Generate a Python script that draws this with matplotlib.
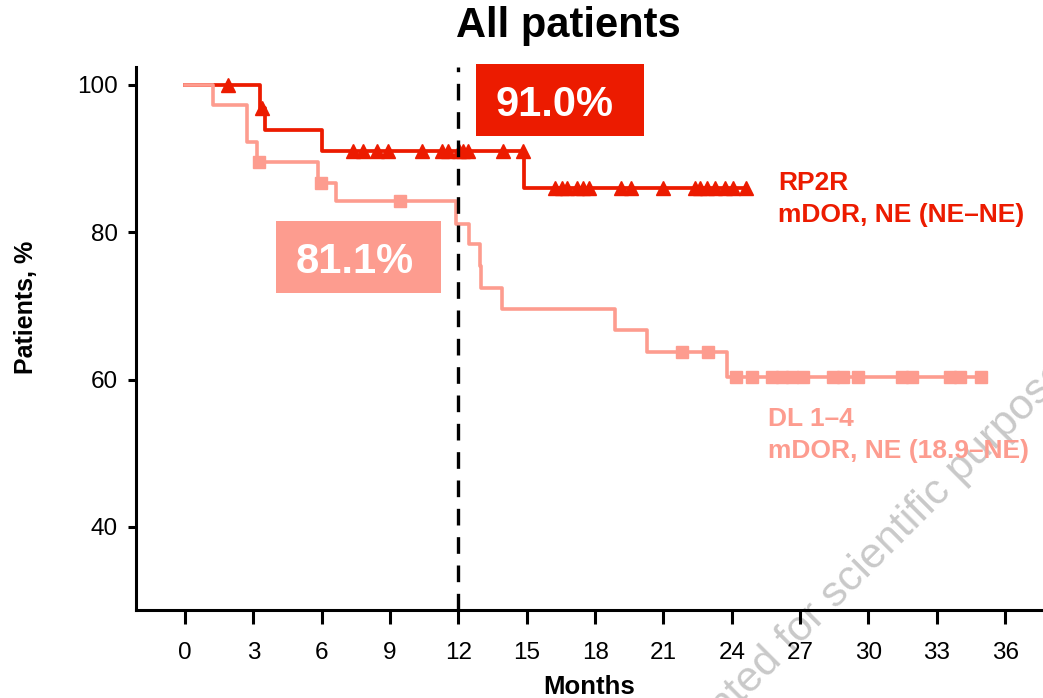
import matplotlib
matplotlib.use("Agg")
import matplotlib.pyplot as plt
import numpy as np
from matplotlib.patches import Rectangle

plt.rcParams['font.family'] = ['Liberation Sans', 'DejaVu Sans']

# ---- data ----
rp2r_event_months = [0, 3.3, 3.5, 6.0, 14.9]
rp2r_surv = [100, 96.9, 93.9, 91.0, 86.0]
rp2r_censor_months = [1.9, 3.38, 7.36, 7.83, 8.42, 8.92, 10.39, 11.27, 11.56, 12.04,
                      12.22, 12.44, 13.97, 14.85, 16.24, 16.54, 16.76, 17.22, 17.49,
                      17.75, 19.13, 19.58, 20.97, 22.39, 22.61, 22.90, 23.27, 23.71,
                      24.07, 24.61]

dl_event_months = [0, 1.23, 2.74, 3.18, 5.82, 6.61, 11.88, 12.47, 12.95, 13.0, 13.9,
                   18.88, 20.27, 23.81]
dl_surv = [100, 97.3, 92.2, 89.5, 86.7, 84.2, 81.1, 78.4, 75.4, 72.4, 69.6, 66.7,
           63.7, 60.3]
dl_censor_months = [3.26, 5.96, 9.44, 21.83, 22.97, 24.2, 24.9, 25.75, 26.19, 26.63,
                    27.14, 28.46, 28.9, 29.56, 31.46, 31.9, 33.58, 34.02, 34.93]

x_ticks = list(range(0, 37, 3))
y_ticks = [40, 60, 80, 100]
landmark_month = 12
rp2r_landmark = "91.0%"
dl_landmark = "81.1%"

RED = "#ec1b00"
SALMON = "#fd9c8f"


def surv_at(times, surv, t):
    idx = np.searchsorted(times, t, side="right") - 1
    return np.asarray(surv)[idx]


fig = plt.figure(figsize=(10.43, 6.98), dpi=100)
ax = fig.add_axes([136 / 1043, 88 / 698, 907 / 1043, 543 / 698])
ax.set_zorder(1)
ax.patch.set_alpha(0)

# curves
ax.step(rp2r_event_months + [rp2r_censor_months[-1]], rp2r_surv + [rp2r_surv[-1]],
        where="post", color=RED, lw=2.7, zorder=2)
ax.step(dl_event_months + [dl_censor_months[-1]], dl_surv + [dl_surv[-1]],
        where="post", color=SALMON, lw=2.6, zorder=3)

# censor marks
ax.plot(rp2r_censor_months, surv_at(rp2r_event_months, rp2r_surv, rp2r_censor_months),
        ls="none", marker="^", ms=9.5, color=RED, zorder=4)
ax.plot(dl_censor_months, surv_at(dl_event_months, dl_surv, dl_censor_months),
        ls="none", marker="s", ms=9, color=SALMON, zorder=4)

ax.axvline(landmark_month, color="black", lw=2.4, dashes=(5, 3.5), zorder=5)

# landmark boxes
ax.add_patch(Rectangle((12.77, 93.08), 7.38, 9.77, facecolor=RED, edgecolor="none",
                       zorder=6, clip_on=False))
ax.text(16.22, 95.8, rp2r_landmark, color="white", fontsize=30, fontweight="bold",
        ha="center", va="baseline", zorder=7)
ax.add_patch(Rectangle((3.99, 71.82), 7.23, 9.73, facecolor=SALMON, edgecolor="none",
                       zorder=6))
ax.text(7.45, 74.44, dl_landmark, color="white", fontsize=30, fontweight="bold",
        ha="center", va="baseline", zorder=7)

# curve labels
ax.text(26.03, 85.75, "RP2R", color=RED, fontsize=19, fontweight="bold", va="baseline")
ax.text(26.03, 81.4, "mDOR, NE (NE\u2013NE)", color=RED, fontsize=19,
        fontweight="bold", va="baseline")
ax.text(25.6, 53.7, "DL 1\u20134", color=SALMON, fontsize=19, fontweight="bold",
        va="baseline")
ax.text(25.6, 49.4, "mDOR, NE (18.9\u2013NE)", color=SALMON, fontsize=19,
        fontweight="bold", va="baseline")

# axes styling
ax.set_xlim(-2.15, 37.66)
ax.set_ylim(28.73, 102.44)
ax.set_xticks(x_ticks)
ax.set_yticks(y_ticks)
for s in ["top", "right"]:
    ax.spines[s].set_visible(False)
for s in ["left", "bottom"]:
    ax.spines[s].set_linewidth(2.2)
ax.tick_params(axis="x", length=10, width=2.2, pad=13, labelsize=17.5)
ax.tick_params(axis="y", length=6, width=2.2, pad=7, labelsize=17.5)

# titles / labels
fig.text(568 / 1043, (698 - 36.7) / 698, "All patients", fontsize=30,
         fontweight="bold", ha="center", va="baseline")
fig.text(26 / 1043, (698 - 307) / 698, "Patients, %", fontsize=18, fontweight="bold",
         rotation=90, ha="center", va="center")
fig.text(589 / 1043, 4 / 698, "Months", fontsize=18.5, fontweight="bold",
         ha="center", va="baseline")

# watermark (runs off the figure edge, as in the reference)
fig.text(645 / 1043, -103 / 698, "Presented for scientific purposes only", fontsize=31,
         color="#c9c9c9", rotation=45, rotation_mode="anchor", ha="left",
         va="baseline", zorder=0)

fig.savefig("out.png", dpi=100)
